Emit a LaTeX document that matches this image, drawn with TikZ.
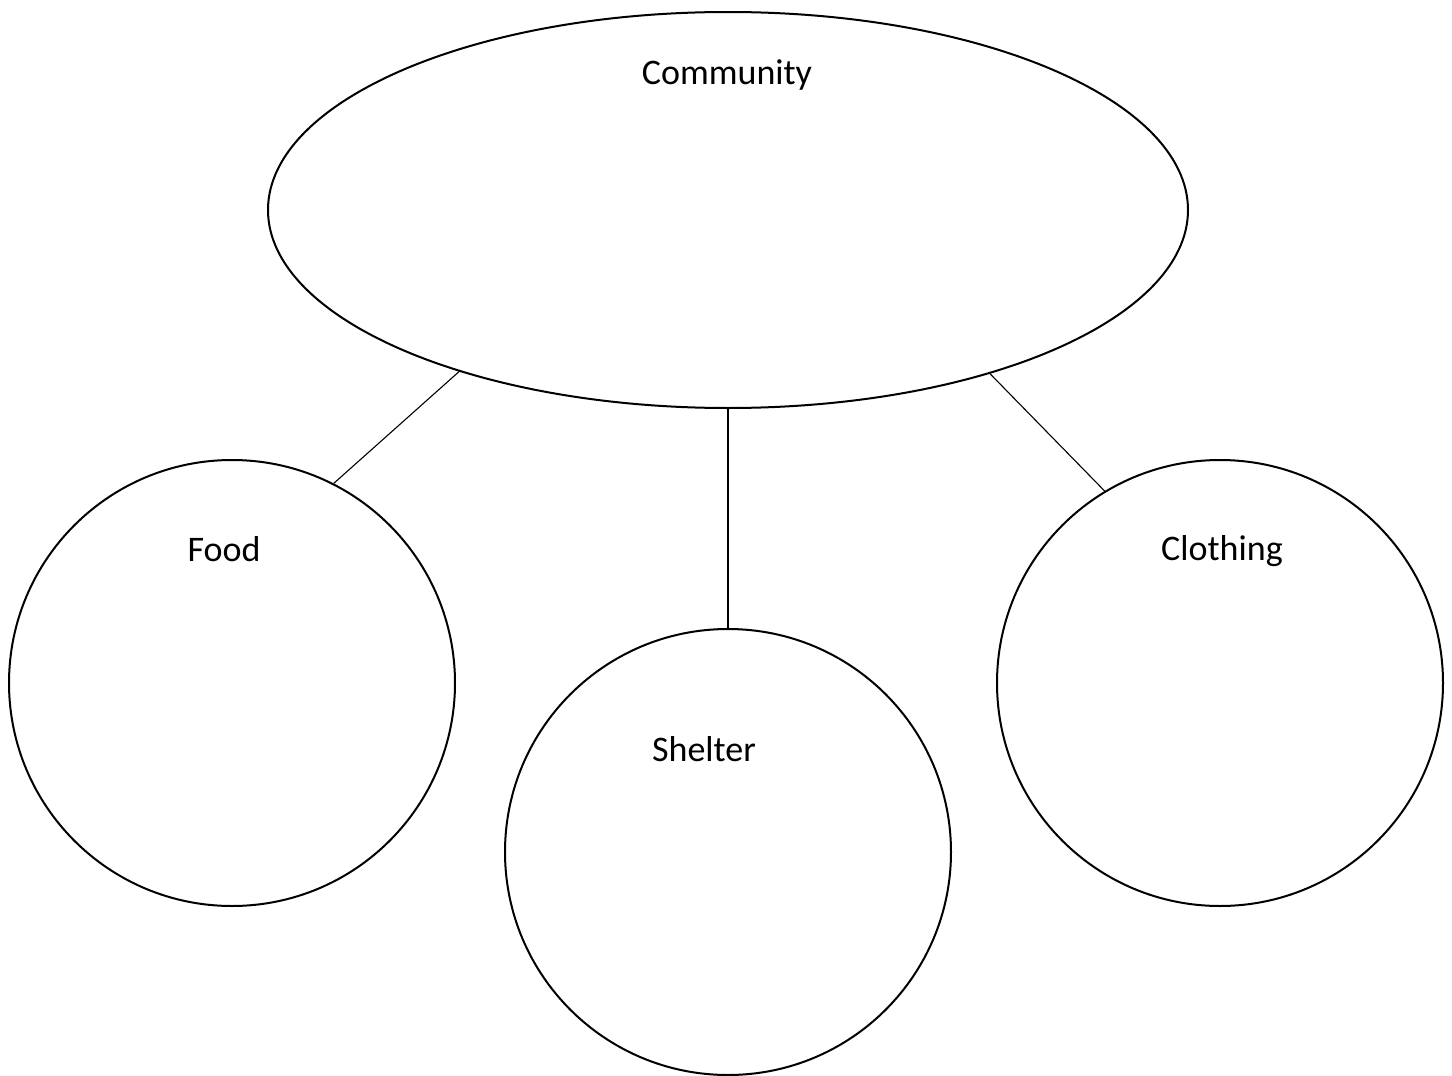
\documentclass[tikz,border=0pt]{standalone}
\usepackage{fontspec}
\setmainfont{Carlito}
\usetikzlibrary{shapes.geometric}
\begin{document}
\begin{tikzpicture}[x=1pt,y=-1pt,
  shapeline/.style={draw=black,line width=2pt},
  bubble/.style={shapeline,circle,minimum size=446pt,inner sep=0pt},
  lbl/.style={font=\fontsize{36}{40}\selectfont,inner sep=0pt,anchor=center},
  thinlink/.style={draw=black,line width=1.1pt},
  thicklink/.style={draw=black,line width=2pt}]
\useasboundingbox (0,0) rectangle (1452,1076);
\node[shapeline,ellipse,minimum width=920pt,minimum height=396pt,inner sep=0pt] (com) at (728,210) {};
\node[bubble] (food) at (232,683) {};
\node[bubble] (shelter) at (728,852) {};
\node[bubble] (cloth) at (1220,683) {};
\node[lbl] (tcom) at (727,75) {Community};
\node[lbl] (tfood) at (224,549) {Food};
\node[lbl] (tshel) at (704,749) {Shelter};
\node[lbl] (tcloth) at (1222,551) {Clothing};
\draw[thinlink] (com.211.3) -- (food.63.8);
\draw[thicklink] (com.south) -- (shelter.north);
\draw[thinlink] (com.328.8) -- (cloth.121.1);
\end{tikzpicture}
\end{document}
